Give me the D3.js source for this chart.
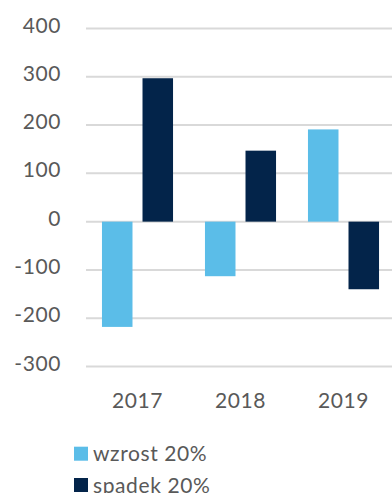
<!DOCTYPE html>
<html>
<head>
<meta charset="utf-8">
<script src="https://cdn.jsdelivr.net/npm/d3@7"></script>
<style>
  html, body { margin: 0; padding: 0; background: #fff; }
  svg { display: block; font-family: Lato, "Open Sans", sans-serif; }
</style>
</head>
<body>
<svg id="chart" width="392" height="493"></svg>
<script>
// Years on the category axis
const years = ["2017", "2018", "2019"];
// Series names shown in the legend
const seriesNames = ["wzrost 20%", "spadek 20%"];
// Values per year for each scenario
const wzrost = [-218, -113, 191];
const spadek = [297, 147, -140];
// Value-axis ticks
const yTicks = [400, 300, 200, 100, 0, -100, -200, -300];

const colors = ["#5bbde8", "#03244a"];
const textColor = "#595959";
const gridColor = "#d9d9d9";
const fontSize = 21;
const spacing = "0.6px";

const svg = d3.select("#chart");

const y = d3.scaleLinear().domain([-300, 400]).range([366.5, 28.5]);
const x = d3.scaleBand().domain(years).range([86, 395])
  .paddingInner(0.31).paddingOuter(0.155);
const xs = d3.scaleBand().domain(seriesNames).range([0, x.bandwidth()])
  .paddingInner(0.247).paddingOuter(0);

// Gridlines
svg.append("g").selectAll("line").data(yTicks).join("line")
  .attr("x1", 86).attr("x2", 392)
  .attr("y1", d => y(d)).attr("y2", d => y(d))
  .attr("stroke", gridColor).attr("stroke-width", 2);

// Y tick labels
svg.append("g").selectAll("text").data(yTicks).join("text")
  .attr("x", 61).attr("y", d => y(d) + 4)
  .attr("text-anchor", "end")
  .attr("font-size", fontSize).attr("letter-spacing", spacing)
  .attr("fill", textColor)
  .text(d => d);

// Bars
const rows = years.map((yr, i) => ({ year: yr, values: [wzrost[i], spadek[i]] }));
const groups = svg.append("g").selectAll("g").data(rows).join("g")
  .attr("transform", d => `translate(${x(d.year)},0)`);
groups.selectAll("rect").data(d => d.values.map((v, k) => ({ v, k })))
  .join("rect")
  .attr("x", d => xs(seriesNames[d.k]))
  .attr("width", xs.bandwidth())
  .attr("y", d => y(Math.max(0, d.v)))
  .attr("height", d => Math.abs(y(d.v) - y(0)))
  .attr("fill", d => colors[d.k]);

// Category labels
svg.append("g").selectAll("text").data(years).join("text")
  .attr("x", d => x(d) + x.bandwidth() / 2)
  .attr("y", 407.5)
  .attr("text-anchor", "middle")
  .attr("font-size", fontSize).attr("letter-spacing", spacing)
  .attr("fill", textColor)
  .text(d => d);

// Legend
const legend = svg.append("g").selectAll("g").data(seriesNames).join("g")
  .attr("transform", (d, i) => `translate(74,${446.7 + i * 31.3})`);
legend.append("rect").attr("width", 14).attr("height", 14)
  .attr("fill", (d, i) => colors[i]);
legend.append("text").attr("x", 19).attr("y", 14.5)
  .attr("font-size", fontSize).attr("letter-spacing", spacing)
  .attr("fill", textColor)
  .text(d => d);
</script>
</body>
</html>
